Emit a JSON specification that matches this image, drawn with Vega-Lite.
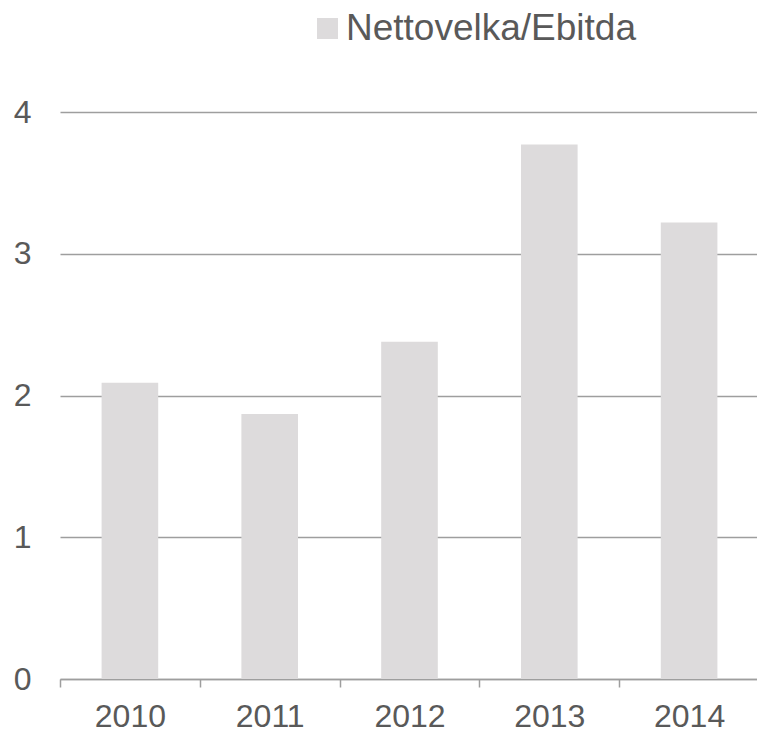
{
  "$schema": "https://vega.github.io/schema/vega-lite/v6.json",
  "autosize": "none",
  "width": 699,
  "height": 567,
  "padding": {"left": 60, "top": 112, "right": 0, "bottom": 54},
  "background": "#ffffff",
  "config": {
    "view": {"stroke": null},
    "font": "Liberation Sans"
  },
  "data": {
    "values": [
      {"year": "2010", "value": 2.09},
      {"year": "2011", "value": 1.87},
      {"year": "2012", "value": 2.38},
      {"year": "2013", "value": 3.77},
      {"year": "2014", "value": 3.22}
    ]
  },
  "mark": {"type": "bar", "width": {"band": 0.405}},
  "encoding": {
    "x": {
      "field": "year",
      "type": "nominal",
      "scale": {"paddingInner": 0, "paddingOuter": 0},
      "axis": {
        "title": null,
        "labelAngle": 0,
        "labelFont": "Liberation Sans",
        "labelFontSize": 32,
        "labelColor": "#595959",
        "labelPadding": 14,
        "domainColor": "#9E9E9E",
        "domainWidth": 1.5,
        "tickColor": "#9E9E9E",
        "tickWidth": 1.5,
        "tickSize": 8,
        "tickBand": "extent",
        "grid": false
      }
    },
    "y": {
      "field": "value",
      "type": "quantitative",
      "scale": {"domain": [0, 4], "nice": false},
      "axis": {
        "title": null,
        "values": [0, 1, 2, 3, 4],
        "labelFont": "Liberation Sans",
        "labelFontSize": 32,
        "labelColor": "#595959",
        "labelPadding": 29,
        "domain": false,
        "ticks": false,
        "grid": true,
        "gridColor": "#9E9E9E",
        "gridWidth": 1.5
      }
    },
    "color": {
      "datum": "Nettovelka/Ebitda",
      "type": "nominal",
      "scale": {"range": ["#DDDBDC"]},
      "legend": {
        "title": null,
        "orient": "none",
        "legendX": 249,
        "legendY": -102,
        "symbolType": "square",
        "symbolSize": 441,
        "symbolStrokeWidth": 0,
        "labelFont": "Liberation Sans",
        "labelFontSize": 37,
        "labelLimit": 0,
        "labelColor": "#595959",
        "labelOffset": 0
      }
    }
  }
}
